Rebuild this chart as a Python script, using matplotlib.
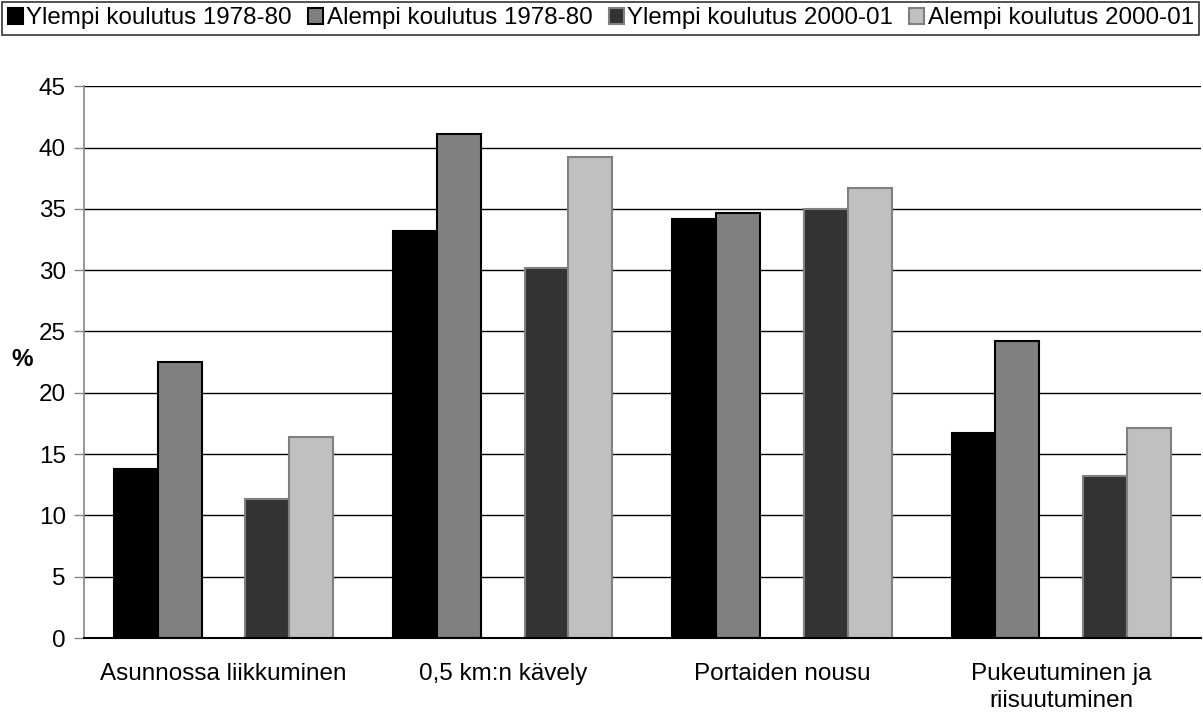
import matplotlib
matplotlib.use("Agg")
import matplotlib.pyplot as plt
import numpy as np

plt.rcParams['font.family'] = ['Liberation Sans', 'DejaVu Sans']

categories = ["Asunnossa liikkuminen", "0,5 km:n kävely", "Portaiden nousu",
              "Pukeutuminen ja\nriisuutuminen"]
series_names = ["Ylempi koulutus 1978-80", "Alempi koulutus 1978-80",
                "Ylempi koulutus 2000-01", "Alempi koulutus 2000-01"]
ylempi_1978 = [13.8, 33.2, 34.2, 16.7]
alempi_1978 = [22.5, 41.1, 34.7, 24.2]
ylempi_2000 = [11.3, 30.2, 35.0, 13.2]
alempi_2000 = [16.4, 39.2, 36.7, 17.1]
y_ticks = [0, 5, 10, 15, 20, 25, 30, 35, 40, 45]

series_values = [ylempi_1978, alempi_1978, ylempi_2000, alempi_2000]
face_colors = ["#000000", "#808080", "#333333", "#c0c0c0"]
edge_colors = ["#000000", "#000000", "#808080", "#808080"]
# five slots per group, the middle slot left empty
slot_offsets = [-2, -1, 1, 2]

fig = plt.figure(figsize=(12.03, 7.12), dpi=100)
ax = fig.add_axes([0.0697, 0.1039, 0.9285, 0.775])

x = np.arange(len(categories))
bw = 0.157
handles = []
for vals, off, fc, ec, name in zip(series_values, slot_offsets, face_colors,
                                   edge_colors, series_names):
    h = ax.bar(x + off * bw, vals, width=bw, color=fc, edgecolor=ec,
               linewidth=1.5, zorder=3, label=name)
    handles.append(h)

ax.set_xlim(-0.5, len(categories) - 0.5)
ax.set_ylim(0, 45)
ax.set_yticks(y_ticks)
ax.set_yticklabels([str(t) for t in y_ticks], fontsize=17.5)
ax.set_xticks(x)
ax.set_xticklabels(categories, fontsize=17.5, linespacing=1.3)
ax.tick_params(axis='x', length=0, pad=18)
ax.tick_params(axis='y', length=7, width=1, color="#868686", pad=6)

ax.yaxis.grid(True, color="#000000", linewidth=1.0, zorder=0)
ax.set_axisbelow(True)
for s in ("top", "right"):
    ax.spines[s].set_visible(False)
ax.spines["left"].set_color("#868686")
ax.spines["left"].set_linewidth(1.2)
ax.spines["bottom"].set_color("#000000")
ax.spines["bottom"].set_linewidth(1.5)
ax.spines["bottom"].set_zorder(4)

fig.text(22 / 1203, 1 - 360 / 712, "%", fontsize=17.5, fontweight="bold",
         ha="center", va="center")

leg = fig.legend(handles=handles, labels=series_names, loc="upper left",
                 bbox_to_anchor=(0.002, 0.947, 0.995, 0.05), mode="expand",
                 ncol=4, fontsize=17.4, frameon=True, fancybox=False,
                 handlelength=0.62, handleheight=0.62, handletextpad=0.15,
                 columnspacing=0.4, borderpad=0.22, borderaxespad=0.0)
leg.get_frame().set_edgecolor("#000000")
leg.get_frame().set_linewidth(1.2)

fig.savefig("out.png", dpi=100)
